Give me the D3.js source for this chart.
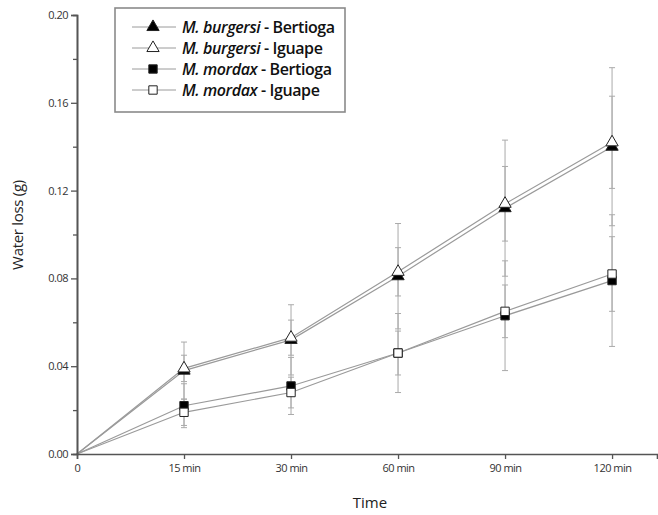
<!DOCTYPE html>
<html>
<head>
<meta charset="utf-8">
<script src="https://cdn.jsdelivr.net/npm/d3@7"></script>
<style>
  body { margin: 0; background: #fff; }
  text { font-family: "Open Sans", sans-serif; }
</style>
</head>
<body>
<div id="chart"></div>
<script>
// categories on the x axis
var times = ["0", "15 min", "30 min", "60 min", "90 min", "120 min"];

// mean water loss (g)
var burgersiBertioga = [0, 0.038, 0.052, 0.081, 0.112, 0.140];
var burgersiIguape   = [0, 0.039, 0.053, 0.083, 0.114, 0.142];
var mordaxBertioga   = [0, 0.022, 0.031, 0.046, 0.063, 0.079];
var mordaxIguape     = [0, 0.019, 0.028, 0.046, 0.065, 0.082];

// error bar half-widths
var errBurgersiBertioga = [0, 0.013, 0.016, 0.024, 0.031, 0.036];
var errBurgersiIguape   = [0, 0.006, 0.008, 0.011, 0.017, 0.021];
var errMordaxBertioga   = [0, 0.010, 0.013, 0.018, 0.025, 0.030];
var errMordaxIguape     = [0, 0.006, 0.007, 0.010, 0.012, 0.017];

var yTicks = [0, 0.04, 0.08, 0.12, 0.16, 0.20];
var yMinor = [0.02, 0.06, 0.10, 0.14, 0.18];

var series = [
  {genus: "M. burgersi", site: " - Bertioga", values: burgersiBertioga, err: errBurgersiBertioga, shape: d3.symbolTriangle, fill: "#000", size: 65},
  {genus: "M. burgersi", site: " - Iguape", values: burgersiIguape, err: errBurgersiIguape, shape: d3.symbolTriangle, fill: "#fff", size: 65},
  {genus: "M. mordax", site: " - Bertioga", values: mordaxBertioga, err: errMordaxBertioga, shape: d3.symbolSquare, fill: "#000", size: 70},
  {genus: "M. mordax", site: " - Iguape", values: mordaxIguape, err: errMordaxIguape, shape: d3.symbolSquare, fill: "#fff", size: 70}
];

var margin = {top: 15, right: 1, bottom: 61, left: 77},
    width = 658 - margin.left - margin.right,
    height = 515 - margin.top - margin.bottom;

var svg = d3.select("#chart")
  .append("svg")
    .attr("width", 658)
    .attr("height", 515)
  .append("g")
    .attr("transform", "translate(" + margin.left + "," + margin.top + ")");

var x = d3.scaleLinear()
  .domain([0, 5.42])
  .range([0, width]);

var y = d3.scaleLinear()
  .domain([0, 0.20])
  .range([height, 0]);

// lines
var line = d3.line()
  .x(function(d, i) { return x(i); })
  .y(function(d) { return y(d); });

svg.selectAll("path.series")
  .data(series)
  .enter()
  .append("path")
    .attr("class", "series")
    .attr("fill", "none")
    .attr("stroke", "#9a9a9a")
    .attr("stroke-width", 1.2)
    .attr("d", function(s) { return line(s.values); });

// error bars
series.forEach(function(s) {
  var g = svg.append("g");
  s.values.forEach(function(v, i) {
    if (i === 0) return;
    var e = s.err[i];
    g.append("line")
      .attr("x1", x(i)).attr("x2", x(i))
      .attr("y1", y(v - e)).attr("y2", y(v + e))
      .attr("stroke", "#aaa").attr("stroke-width", 1);
    [v - e, v + e].forEach(function(c) {
      g.append("line")
        .attr("x1", x(i) - 3).attr("x2", x(i) + 3)
        .attr("y1", y(c)).attr("y2", y(c))
        .attr("stroke", "#aaa").attr("stroke-width", 1);
    });
  });
});

// markers
series.forEach(function(s) {
  svg.selectAll(null)
    .data(s.values.slice(1))
    .enter()
    .append("path")
      .attr("d", d3.symbol().type(s.shape).size(s.size))
      .attr("transform", function(d, i) { return "translate(" + x(i + 1) + "," + y(d) + ")"; })
      .attr("fill", s.fill)
      .attr("stroke", "#222")
      .attr("stroke-width", 1);
});

// axes
svg.append("g")
  .call(d3.axisLeft(y).tickValues(yTicks).tickFormat(d3.format(".2f")).tickSize(6).tickPadding(3));
svg.append("g")
  .call(d3.axisLeft(y).tickValues(yMinor).tickFormat("").tickSize(4));

svg.append("g")
  .attr("transform", "translate(0," + height + ")")
  .call(d3.axisBottom(x).tickValues(d3.range(times.length))
    .tickFormat(function(d) { return times[d]; }).tickSize(5).tickPadding(5));

svg.selectAll(".domain").attr("stroke", "#555").attr("stroke-width", 1.6);
svg.selectAll(".tick line").attr("stroke", "#555").attr("stroke-width", 1.3);
svg.selectAll(".tick text")
  .attr("fill", "#333")
  .style("font-size", "11px")
  .style("letter-spacing", "-0.5px");

// axis titles
svg.append("text")
  .attr("transform", "rotate(-90)")
  .attr("x", -(225 - margin.top))
  .attr("y", -54)
  .attr("text-anchor", "middle")
  .attr("fill", "#222")
  .style("font-size", "15px")
  .style("letter-spacing", "-0.3px")
  .text("Water loss (g)");

svg.append("text")
  .attr("x", 370 - margin.left)
  .attr("y", 508 - margin.top)
  .attr("text-anchor", "middle")
  .attr("fill", "#222")
  .style("font-size", "15px")
  .text("Time");

// legend
var legend = svg.append("g")
  .attr("transform", "translate(" + (115 - margin.left) + "," + (8 - margin.top) + ")");

legend.append("rect")
  .attr("width", 230)
  .attr("height", 104)
  .attr("fill", "#fff")
  .attr("stroke", "#8a8a8a")
  .attr("stroke-width", 1.6);

series.forEach(function(s, i) {
  var ly = 19 + i * 21;
  legend.append("line")
    .attr("x1", 17).attr("x2", 61)
    .attr("y1", ly).attr("y2", ly)
    .attr("stroke", "#9a9a9a").attr("stroke-width", 1);
  legend.append("path")
    .attr("d", d3.symbol().type(s.shape).size(s.size))
    .attr("transform", "translate(38," + ly + ")")
    .attr("fill", s.fill)
    .attr("stroke", "#222");
  var t = legend.append("text")
    .attr("x", 67)
    .attr("y", ly + 6)
    .attr("fill", "#111")
    .style("font-size", "16px")
    .style("font-weight", "600")
    .style("letter-spacing", "-0.4px");
  t.append("tspan").style("font-style", "italic").text(s.genus);
  t.append("tspan").text(s.site);
});
</script>
</body>
</html>
